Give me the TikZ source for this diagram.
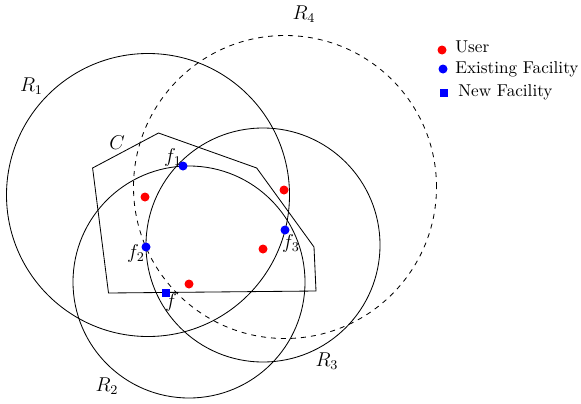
\documentclass[tikz,border=0pt]{standalone}
\begin{document}
\begin{tikzpicture}[x=0.6pt,y=-0.6pt,
  ring/.style={draw=black,line width=0.5pt},
  user/.style={circle,fill=red,inner sep=0pt,minimum size=5.4pt},
  fac/.style={circle,fill=blue,inner sep=0pt,minimum size=5.4pt},
  newfac/.style={rectangle,fill=blue,inner sep=0pt,minimum size=4.8pt},
  lbl/.style={inner sep=0pt,font=\fontsize{11.5}{13}\selectfont},
  leg/.style={inner sep=0pt,anchor=west,font=\fontsize{10.3}{12}\selectfont}]
\useasboundingbox (0,0) rectangle (581,403);
% regions
\draw[ring] (148,195) circle [radius=141.5*0.6pt];
\draw[ring] (189,282) circle [radius=116*0.6pt];
\draw[ring] (263,245) circle [radius=117*0.6pt];
\draw[ring,dashed] (285,187) circle [radius=151.5*0.6pt];
% polygon C
\draw[ring] (92.6,168) -- (158.5,133) -- (256.7,168) -- (314,247) -- (316,291) -- (108.5,293) -- cycle;
% users
\node[user] (u1) at (145,197) {};
\node[user] (u2) at (284,190) {};
\node[user] (u3) at (263,249) {};
\node[user] (u4) at (189,284) {};
% facilities
\node[fac] (f1) at (183,166) {};
\node[fac] (f2) at (146,247) {};
\node[fac] (f3) at (285,230) {};
\node[newfac] (fn) at (165.6,293) {};
% labels
\node[lbl] (lR1) at (31.5,86) {$R_1$};
\node[lbl] (lR2) at (107,386) {$R_2$};
\node[lbl] (lR3) at (327,361) {$R_3$};
\node[lbl] (lR4) at (304,14) {$R_4$};
\node[lbl] (lC) at (117,143) {$C$};
\node[lbl] (lf1) at (173,157) {$f_1$};
\node[lbl] (lf2) at (136,253) {$f_2$};
\node[lbl] (lf3) at (291,243) {$f_3$};
\node[lbl] (lf) at (171,302) {$f$};
% legend
\node[user] (k1) at (442,50) {};
\node[fac] (k2) at (443,69) {};
\node[newfac] (k3) at (444,93) {};
\node[leg] (t1) at (455,47) {User};
\node[leg] (t2) at (455,69) {Existing Facility};
\node[leg] (t3) at (458,92) {New Facility};
\end{tikzpicture}
\end{document}
